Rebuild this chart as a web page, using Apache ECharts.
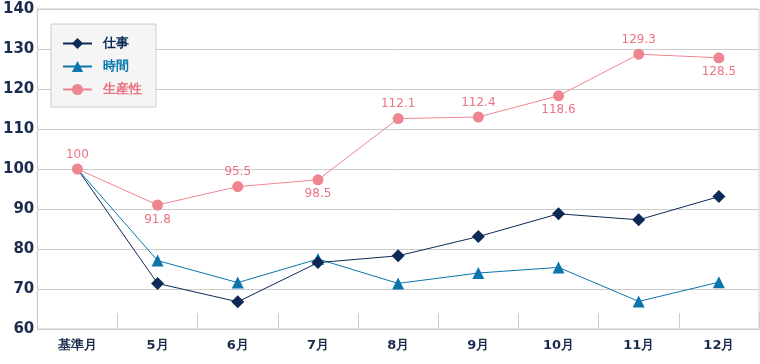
<!DOCTYPE html>
<html><head><meta charset="utf-8">
<script src="https://cdn.jsdelivr.net/npm/echarts@6/dist/echarts.min.js"></script>
<style>html,body{margin:0;padding:0;background:#fff}#c{width:760px;height:364px}</style>
</head><body><div id="c"></div>
<script>
const categories = ['基準月','5月','6月','7月','8月','9月','10月','11月','12月'];
const shigoto = [100, 71.4, 66.8, 76.6, 78.3, 83.1, 88.8, 87.3, 93.1];
const jikan = [100, 77.1, 71.6, 77.5, 71.4, 74.0, 75.4, 66.9, 71.7];
const seisansei = [100, 91.0, 95.6, 97.3, 112.6, 113.0, 118.3, 128.7, 127.8];
const seisanseiLabels = ['100','91.8','95.5','98.5','112.1','112.4','118.6','129.3','128.5'];
const labelBelow = [false, true, false, true, false, false, true, false, true];
const yTicks = [60, 140, 10];

const NAVY = '#0c2a55', BLUE = '#0a76ad', PINK = '#ee8590', LABEL_PINK = '#ea7483', AXIS_TXT = '#1b2b4d';
const FONT = 'DejaVu Sans';

// first (base) point is hidden under the 生産性 marker in the reference
const hideFirst = (arr) => arr.map((v, i) => i === 0 ? {value: v, symbol: 'none'} : v);

const chart = echarts.init(document.getElementById('c'), null, {renderer:'canvas'});
chart.setOption({
  animation: false,
  grid: {left: 33, top: 9, right: 1, bottom: 35, show: true, borderColor: '#cccccc', borderWidth: 1},
  legend: {
    orient: 'vertical', left: 51, top: 24,
    padding: [13, 14, 11, 11], itemGap: 10, itemWidth: 29, itemHeight: 14,
    backgroundColor: '#f5f5f5', borderColor: '#cccccc', borderWidth: 1,
    textStyle: {fontFamily: FONT, fontSize: 13, fontWeight: 'bold', padding: [0,0,0,6]},
    data: [
      {name: '仕事', textStyle: {color: NAVY}},
      {name: '時間', textStyle: {color: BLUE}},
      {name: '生産性', textStyle: {color: '#e8707f'}}
    ]
  },
  xAxis: {
    type: 'category', data: categories, boundaryGap: true,
    axisLine: {lineStyle: {color: '#cccccc', width: 1}},
    axisTick: {show: true, inside: true, length: 16, lineStyle: {color: '#cccccc'}},
    axisLabel: {color: AXIS_TXT, fontFamily: FONT, fontSize: 13, fontWeight: 'bold', margin: 10}
  },
  yAxis: {
    type: 'value', min: yTicks[0], max: yTicks[1], interval: yTicks[2],
    axisLine: {show: true, lineStyle: {color: '#cccccc', width: 1}},
    axisTick: {show: false},
    splitLine: {lineStyle: {color: '#cccccc', width: 1}},
    axisLabel: {color: AXIS_TXT, fontFamily: FONT, fontSize: 15, fontWeight: 'bold', margin: 3}
  },
  series: [
    {name: '仕事', type: 'line', data: hideFirst(shigoto), symbol: 'diamond', symbolSize: 13,
     lineStyle: {color: NAVY, width: 1}, itemStyle: {color: NAVY}, z: 3},
    {name: '時間', type: 'line', data: hideFirst(jikan), symbol: 'triangle', symbolSize: 12,
     lineStyle: {color: BLUE, width: 1}, itemStyle: {color: BLUE}, z: 2},
    {name: '生産性', type: 'line', symbol: 'circle', symbolSize: 11,
     lineStyle: {color: PINK, width: 1}, itemStyle: {color: PINK}, z: 4,
     data: seisansei.map((v, i) => ({
       value: v,
       label: {show: true, formatter: seisanseiLabels[i], position: labelBelow[i] ? 'bottom' : 'top',
               distance: 3, color: LABEL_PINK, fontFamily: FONT, fontSize: 12}
     }))}
  ]
});
</script></body></html>
